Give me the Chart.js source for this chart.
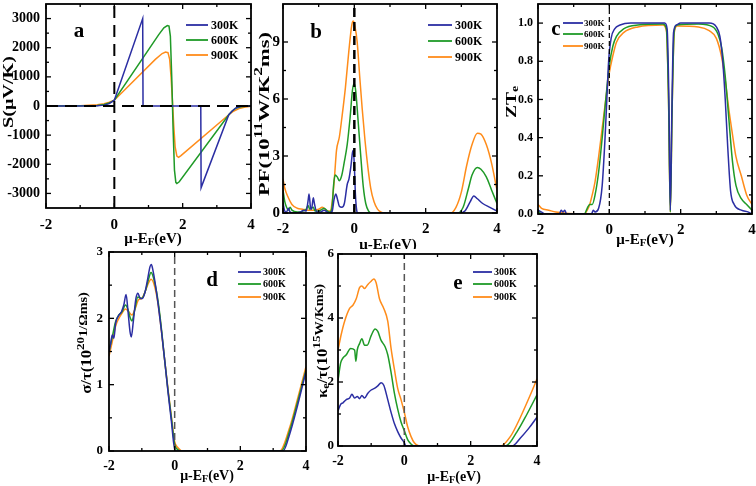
<!DOCTYPE html>
<html><head><meta charset="utf-8">
<script src="https://cdn.jsdelivr.net/npm/chart.js@4"></script>
<style>
html,body{margin:0;padding:0;background:#fff;}
#wrap{position:relative;width:756px;height:486px;overflow:hidden;background:#fff;}
canvas{position:absolute;left:0;top:0;}
</style></head><body><div id="wrap">
<canvas id="ca" width="756" height="486"></canvas>
<canvas id="cb" width="756" height="486"></canvas>
<canvas id="cc" width="756" height="486"></canvas>
<canvas id="cd" width="756" height="486"></canvas>
<canvas id="ce" width="756" height="486"></canvas>
</div>
<script>
// ---------- data ----------
const temps = ['300K', '600K', '900K'];
const xTicks = [-2, 0, 2, 4];
const aYTicks = [-3000, -2000, -1000, 0, 1000, 2000, 3000];
const bYTicks = [0, 3, 6, 9];
const cYTicks = [0, 0.2, 0.4, 0.6, 0.8, 1.0];
const dYTicks = [0, 1, 2, 3];
const eYTicks = [0, 2, 4, 6];

// panel a: Seebeck S (uV/K)
const S300 = [[-2,0],[-1,0],[-0.5,5],[-0.3,30],[-0.15,80],[0,200],[0.83,3000],[0.84,0],[2.53,0],[2.54,-2800],[3.35,-300],[3.45,-170],[3.55,-70],[3.65,-25],[3.75,-5],[4,0]];
const S600 = [[-2,0],[-1,5],[-0.5,20],[-0.3,50],[-0.15,100],[0,200],[1.3,2450],[1.45,2680],[1.55,2760],[1.6,2740],[1.64,2400],[1.68,1000],[1.72,-800],[1.76,-2200],[1.8,-2620],[1.83,-2660],[1.9,-2600],[3.35,-300],[3.45,-170],[3.55,-80],[3.7,-25],[3.85,-8],[4,0]];
const S900 = [[-2,0],[-1,10],[-0.5,40],[-0.3,80],[-0.15,130],[0,200],[1.2,1600],[1.4,1800],[1.5,1850],[1.57,1830],[1.62,1600],[1.66,1000],[1.7,200],[1.74,-700],[1.78,-1400],[1.83,-1720],[1.88,-1760],[1.95,-1700],[3.35,-300],[3.5,-170],[3.65,-90],[3.8,-40],[4,-10]];

// panel b: power factor
const PF300 = [[-2,0.55],[-1.95,0.1],[-1.9,0.05],[-1.85,0.25],[-1.8,0.05],[-1.7,0],[-1.5,0.05],[-1.42,0.15],[-1.35,0.1],[-1.3,0.6],[-1.27,1.0],[-1.23,0.3],[-1.2,0.2],[-1.15,0.8],[-1.12,0.5],[-1.05,0.05],[-0.95,0.05],[-0.85,0.15],[-0.8,0.1],[-0.7,0],[-0.62,0.1],[-0.57,0.7],[-0.52,1.0],[-0.47,0.7],[-0.42,0.35],[-0.35,0.3],[-0.28,0.5],[-0.2,1.5],[-0.15,1.8],[-0.1,2.4],[-0.05,3.2],[-0.03,3.3],[0,2.5],[0.03,1.0],[0.07,0.1],[0.1,0],[2.95,0],[3.1,0.1],[3.25,0.6],[3.35,0.9],[3.45,0.75],[3.6,0.5],[3.8,0.3],[4,0.1]];
const PF600 = [[-2,1.2],[-1.95,0.6],[-1.9,0.3],[-1.85,0.15],[-1.8,0.3],[-1.75,0.15],[-1.6,0.05],[-1.45,0.1],[-1.35,0.2],[-1.3,0.4],[-1.25,0.2],[-1.15,0.3],[-1.1,0.1],[-1.0,0.1],[-0.9,0.2],[-0.85,0.25],[-0.75,0.1],[-0.68,0.05],[-0.62,0.4],[-0.58,1.5],[-0.54,2.0],[-0.48,1.9],[-0.42,1.7],[-0.35,2.0],[-0.28,2.7],[-0.2,3.6],[-0.12,5.0],[-0.05,6.5],[0,6.8],[0.04,6.4],[0.1,5.0],[0.18,3.0],[0.25,1.4],[0.32,0.5],[0.4,0.1],[0.5,0],[2.9,0],[3.05,0.3],[3.2,1.3],[3.3,2.0],[3.45,2.4],[3.55,2.3],[3.7,1.9],[3.85,1.2],[4,0.5]];
const PF900 = [[-2,1.8],[-1.95,1.3],[-1.85,0.8],[-1.75,0.45],[-1.6,0.25],[-1.45,0.2],[-1.3,0.15],[-1.15,0.15],[-1.0,0.2],[-0.9,0.3],[-0.85,0.25],[-0.75,0.1],[-0.68,0.1],[-0.62,0.6],[-0.56,1.8],[-0.5,3.3],[-0.42,4.0],[-0.35,5.0],[-0.25,6.6],[-0.15,8.6],[-0.07,9.9],[-0.03,10.1],[0.02,9.8],[0.08,9.0],[0.15,7.2],[0.22,5.5],[0.3,3.8],[0.38,2.4],[0.46,1.3],[0.55,0.6],[0.65,0.2],[0.75,0.05],[0.9,0],[2.7,0],[2.85,0.3],[3.0,1.1],[3.15,2.5],[3.3,3.6],[3.45,4.2],[3.55,4.15],[3.7,3.6],[3.85,2.6],[4,1.2]];

// panel c: ZTe
const ZT300 = [[-2,0.02],[-1.9,0.01],[-1.8,0],[-1.4,0],[-1.35,0.02],[-1.3,0.01],[-1.25,0.02],[-1.2,0],[-0.5,0],[-0.45,0.02],[-0.4,0.01],[-0.3,0.03],[-0.2,0.15],[-0.12,0.4],[-0.07,0.6],[-0.02,0.8],[0.05,0.92],[0.15,0.97],[0.3,0.99],[0.6,1.0],[1.55,1.0],[1.62,0.97],[1.67,0.6],[1.71,0.02],[1.75,0.5],[1.8,0.95],[1.88,0.99],[2.0,1.0],[2.8,1.0],[3.0,0.98],[3.1,0.93],[3.18,0.8],[3.25,0.6],[3.32,0.35],[3.4,0.12],[3.5,0.05],[3.7,0.02],[3.9,0.01],[4,0]];
const ZT600 = [[-2,0.02],[-1.9,0.0],[-1.5,0.0],[-0.7,0],[-0.62,0.03],[-0.55,0.05],[-0.48,0.05],[-0.4,0.1],[-0.3,0.22],[-0.2,0.4],[-0.1,0.6],[0,0.78],[0.1,0.88],[0.2,0.93],[0.4,0.97],[0.8,0.99],[1.5,0.995],[1.6,0.97],[1.66,0.6],[1.71,0.01],[1.76,0.55],[1.82,0.96],[1.9,0.99],[2.5,0.995],[2.9,0.98],[3.05,0.94],[3.15,0.87],[3.25,0.72],[3.35,0.5],[3.45,0.28],[3.55,0.15],[3.7,0.08],[3.85,0.05],[4,0.02]];
const ZT900 = [[-2,0.05],[-1.9,0.03],[-1.7,0.02],[-1.5,0.01],[-0.7,0],[-0.62,0.02],[-0.55,0.05],[-0.48,0.1],[-0.4,0.17],[-0.3,0.3],[-0.2,0.45],[-0.1,0.6],[0,0.74],[0.1,0.83],[0.2,0.9],[0.4,0.95],[0.8,0.98],[1.5,0.99],[1.6,0.96],[1.66,0.6],[1.71,0.01],[1.76,0.55],[1.82,0.95],[1.9,0.985],[2.5,0.98],[2.8,0.96],[3.0,0.92],[3.15,0.82],[3.25,0.7],[3.35,0.55],[3.45,0.42],[3.55,0.3],[3.7,0.2],[3.85,0.1],[4,0.05]];

// panel d: sigma/tau
const SIG300 = [[-2,1.5],[-1.95,1.62],[-1.9,1.75],[-1.85,1.7],[-1.8,1.92],[-1.72,2.03],[-1.62,2.1],[-1.55,2.2],[-1.48,2.36],[-1.42,2.1],[-1.36,1.8],[-1.32,1.72],[-1.26,1.95],[-1.18,2.3],[-1.12,2.38],[-1.05,2.3],[-0.98,2.3],[-0.9,2.4],[-0.82,2.6],[-0.75,2.78],[-0.71,2.81],[-0.66,2.72],[-0.6,2.55],[-0.5,2.2],[-0.4,1.8],[-0.3,1.35],[-0.2,0.88],[-0.1,0.45],[-0.03,0.12],[0.02,0],[3.3,0],[3.5,0.25],[3.75,0.7],[4,1.2]];
const SIG600 = [[-2,1.5],[-1.9,1.72],[-1.8,1.95],[-1.7,2.05],[-1.6,2.1],[-1.5,2.2],[-1.42,2.13],[-1.35,2.0],[-1.3,1.96],[-1.22,2.12],[-1.12,2.32],[-1.0,2.3],[-0.9,2.4],[-0.8,2.58],[-0.72,2.69],[-0.65,2.62],[-0.55,2.4],[-0.45,2.05],[-0.3,1.35],[-0.2,0.9],[-0.1,0.5],[0,0.1],[0.1,0.02],[0.2,0],[3.25,0],[3.5,0.3],[3.75,0.75],[4,1.22]];
const SIG900 = [[-2,1.43],[-1.9,1.65],[-1.8,1.88],[-1.7,2.0],[-1.6,2.08],[-1.5,2.14],[-1.4,2.1],[-1.3,2.05],[-1.2,2.15],[-1.1,2.28],[-1.0,2.3],[-0.9,2.4],[-0.8,2.53],[-0.72,2.59],[-0.62,2.5],[-0.5,2.2],[-0.3,1.35],[-0.2,0.92],[-0.1,0.52],[0,0.14],[0.1,0.05],[0.25,0],[3.2,0],[3.5,0.35],[3.75,0.8],[4,1.27]];

// panel e: kappa_e/tau
const KE300 = [[-2,1.1],[-1.92,1.3],[-1.85,1.35],[-1.75,1.45],[-1.65,1.5],[-1.58,1.62],[-1.5,1.5],[-1.42,1.55],[-1.35,1.48],[-1.28,1.58],[-1.2,1.5],[-1.1,1.65],[-1.0,1.75],[-0.9,1.8],[-0.8,1.88],[-0.7,1.98],[-0.62,1.9],[-0.5,1.45],[-0.4,1.05],[-0.3,0.7],[-0.2,0.45],[-0.1,0.25],[0,0.1],[0.05,0],[3.25,0],[3.5,0.25],[3.75,0.55],[4,0.9]];
const KE600 = [[-2,2.05],[-1.92,2.6],[-1.85,2.75],[-1.75,2.85],[-1.62,3.05],[-1.5,3.0],[-1.46,2.65],[-1.42,3.0],[-1.35,3.2],[-1.28,3.35],[-1.2,3.15],[-1.12,3.15],[-1.0,3.45],[-0.88,3.66],[-0.8,3.58],[-0.7,3.3],[-0.58,3.1],[-0.5,2.85],[-0.4,2.3],[-0.3,1.65],[-0.2,1.15],[-0.1,0.75],[0,0.48],[0.1,0.2],[0.2,0.06],[0.3,0],[3.05,0],[3.4,0.45],[3.7,1.0],[4,1.6]];
const KE900 = [[-2,3.0],[-1.9,3.5],[-1.8,3.9],[-1.65,4.3],[-1.55,4.4],[-1.45,4.6],[-1.35,4.95],[-1.28,5.0],[-1.2,4.92],[-1.1,5.05],[-1.0,5.15],[-0.92,5.22],[-0.85,5.1],[-0.75,4.6],[-0.62,4.3],[-0.5,3.9],[-0.4,3.05],[-0.3,2.4],[-0.2,1.8],[-0.1,1.45],[0,1.05],[0.1,0.6],[0.2,0.3],[0.3,0.1],[0.45,0],[2.9,0],[3.2,0.3],[3.5,0.9],[3.8,1.6],[4,2.1]];

// ---------- styling / helpers ----------
const COLORS = ['#2b2ea3', '#1f9a27', '#ff8c1a'];
const SERIF = '"Liberation Serif","Times New Roman",serif';
const YW = 46, XH = 30;

function drawRich(ctx, parts, x, y, rot, size, clipBottom, stretch) {
  ctx.save();
  if (clipBottom) { ctx.beginPath(); ctx.rect(0, 0, 756, clipBottom); ctx.clip(); }
  ctx.translate(x, y);
  if (rot) ctx.rotate(rot);
  if (stretch) ctx.scale(stretch, 1);
  ctx.fillStyle = '#000';
  ctx.textBaseline = 'middle';
  ctx.textAlign = 'left';
  const spec = k => {
    if (k === 'sup') return { s: size * 0.78, dy: -size * 0.42 };
    if (k === 'sub') return { s: size * 0.72, dy: size * 0.22 };
    if (k === 'up') return { s: size * 0.85, dy: -size * 0.22 };
    return { s: size, dy: 0 };
  };
  let w = 0;
  const items = parts.map(([t, k]) => {
    const sp = spec(k);
    ctx.font = 'bold ' + sp.s + 'px ' + SERIF;
    const m = ctx.measureText(t).width;
    w += m;
    return { t, sp, m };
  });
  let cx = -w / 2;
  items.forEach(it => {
    ctx.font = 'bold ' + it.sp.s + 'px ' + SERIF;
    ctx.fillText(it.t, cx, it.sp.dy);
    cx += it.m;
  });
  ctx.restore();
}

const deco = {
  id: 'deco',
  afterDraw(chart, args, o) {
    const ctx = chart.ctx, a = chart.chartArea;
    const xs = chart.scales.x, ys = chart.scales.y;
    ctx.save();
    ctx.strokeStyle = '#000';
    ctx.lineWidth = 1.3;
    const seg = (x1, y1, x2, y2) => { ctx.beginPath(); ctx.moveTo(x1, y1); ctx.lineTo(x2, y2); ctx.stroke(); };
    const xMaj = xs.ticks.map(t => t.value);
    const yMaj = ys.ticks.map(t => t.value);
    const mids = arr => arr.slice(1).map((v, i) => (v + arr[i]) / 2);
    const xMin = mids(xMaj);
    const yMin = mids(yMaj);
    xMaj.forEach(v => { const p = xs.getPixelForValue(v); seg(p, a.bottom, p, a.bottom - 5); seg(p, a.top, p, a.top + 5); });
    xMin.forEach(v => { const p = xs.getPixelForValue(v); seg(p, a.bottom, p, a.bottom - 3); seg(p, a.top, p, a.top + 3); });
    yMaj.forEach(v => { const p = ys.getPixelForValue(v); seg(a.left, p, a.left + 5, p); seg(a.right, p, a.right - 5, p); });
    yMin.forEach(v => { const p = ys.getPixelForValue(v); seg(a.left, p, a.left + 3, p); seg(a.right, p, a.right - 3, p); });
    ctx.lineWidth = o.frame || 1.8;
    ctx.strokeRect(a.left, a.top, a.right - a.left, a.bottom - a.top);
    const L = o.legend;
    chart.data.datasets.forEach(ds => {
      if (!ds.label) return;
      const row = L.rows[ds.row];
      ctx.strokeStyle = ds.borderColor; ctx.lineWidth = 1.8;
      seg(L.x1, row, L.x2, row);
      ctx.fillStyle = '#000';
      ctx.font = 'bold ' + L.size + 'px ' + SERIF;
      ctx.textBaseline = 'middle'; ctx.textAlign = 'left';
      ctx.fillText(ds.label, L.tx, row + 0.5);
    });
    ctx.fillStyle = '#000';
    ctx.font = 'bold ' + o.letter.size + 'px ' + SERIF;
    ctx.textBaseline = 'middle'; ctx.textAlign = 'center';
    ctx.fillText(o.letter.t, o.letter.x, o.letter.y);
    ctx.restore();
    o.titles.forEach(tt => drawRich(ctx, tt.parts, tt.x, tt.y, tt.rot, tt.size, tt.clip, tt.stretch));
  }
};

function series(arrs, mode) {
  return arrs.map((arr, i) => ({
    label: temps[i], row: i,
    data: arr.map(([x, y]) => ({ x, y })),
    borderColor: COLORS[i], borderWidth: 1.5, pointRadius: 0, fill: false,
    tension: 0, cubicInterpolationMode: mode || 'default'
  }));
}
function refLine(pts, color, width, dash) {
  return { label: '', data: pts.map(([x, y]) => ({ x, y })), borderColor: color, borderWidth: width,
           borderDash: dash, pointRadius: 0, fill: false, tension: 0, order: -1 };
}
const zeroPad = s => { s.paddingTop = 0; s.paddingBottom = 0; s.paddingLeft = 0; s.paddingRight = 0; };

function panel(id, box, yMin, yMax, yTicks, fmt, datasets, fonts, pads, decoOpts) {
  const [L, T, R, B] = box;
  return new Chart(document.getElementById(id), {
    type: 'line',
    data: { datasets },
    plugins: [deco],
    options: {
      responsive: false, animation: false, devicePixelRatio: 1,
      layout: { padding: { left: L - YW, top: T, right: 756 - R, bottom: 486 - B - XH } },
      plugins: { legend: { display: false }, tooltip: { enabled: false }, deco: decoOpts },
      scales: {
        x: {
          type: 'linear', min: -2, max: 4,
          afterFit: s => { s.height = XH; zeroPad(s); },
          afterBuildTicks: s => { s.ticks = xTicks.map(v => ({ value: v })); },
          grid: { display: false, drawTicks: false }, border: { display: false },
          ticks: { autoSkip: false, maxRotation: 0, minRotation: 0, padding: pads[1], color: '#000',
                   font: { family: SERIF, weight: 'bold', size: fonts[1] }, callback: v => String(v) }
        },
        y: {
          type: 'linear', min: yMin, max: yMax,
          afterFit: s => { s.width = YW; zeroPad(s); },
          afterBuildTicks: s => { s.ticks = yTicks.map(v => ({ value: v })); },
          grid: { display: false, drawTicks: false }, border: { display: false },
          ticks: { autoSkip: false, padding: pads[0], color: '#000',
                   font: { family: SERIF, weight: 'bold', size: fonts[0] }, callback: fmt }
        }
      }
    }
  });
}

const xTitle = (x, y, size, clip) => ({ parts: [['μ-E', 'n'], ['F', 'sub'], ['(eV)', 'n']], x, y, rot: 0, size, clip });
const R90 = -Math.PI / 2;

// panel a
panel('ca', [46, 4, 251, 208], -3500, 3500, aYTicks, v => String(v),
  [refLine([[0, -3500], [0, 3500]], '#000', 2, [12, 7]), refLine([[-2, 0], [4, 0]], '#000', 2, [12, 7])]
    .concat(series([S300, S600, S900])),
  [14, 15], [6, 8],
  { legend: { x1: 186, x2: 208, tx: 211, rows: [25, 40, 55], size: 12 },
    letter: { t: 'a', x: 79, y: 32, size: 21 },
    titles: [{ parts: [['S(μV/K)', 'n']], x: 9, y: 92, rot: R90, size: 15, stretch: 1.35 }, xTitle(153, 239, 15)] });

// panel b
panel('cb', [283, 4, 497, 213], 0, 11, bYTicks, v => String(v),
  [refLine([[0, 0], [0, 11]], '#000', 2.5, [9, 5])].concat(series([PF300, PF600, PF900], 'monotone')),
  [15, 15], [3, 7],
  { legend: { x1: 428, x2: 452, tx: 455, rows: [25, 41, 57], size: 12 },
    letter: { t: 'b', x: 316, y: 33, size: 21 },
    titles: [{ parts: [['PF(10', 'n'], ['11', 'sup'], ['W/K', 'n'], ['2', 'sup'], ['ms)', 'n']], x: 265, y: 114, rot: R90, size: 15, stretch: 1.5 },
             xTitle(388, 245, 15, 249)] });

// panel c
panel('cc', [538, 4, 752, 214], 0, 1.1, cYTicks, v => v.toFixed(1),
  [refLine([[0, 0], [0, 1.1]], '#000', 1.2, [5, 3])].concat(series([ZT300, ZT600, ZT900], 'monotone')),
  [12, 15], [5, 7],
  { legend: { x1: 563, x2: 583, tx: 584, rows: [23, 34, 46], size: 9 },
    letter: { t: 'c', x: 556, y: 30, size: 21 },
    titles: [{ parts: [['ZT', 'n'], ['e', 'sub']], x: 512, y: 102, rot: R90, size: 15, stretch: 1.3 }, xTitle(645, 240, 15)] });

// panel d
panel('cd', [109, 252, 306, 451], 0, 3, dYTicks, v => String(v),
  [refLine([[0, 0], [0, 3]], '#555', 1.5, [7, 4])].concat(series([SIG300, SIG600, SIG900], 'monotone')),
  [13, 14], [6, 7],
  { legend: { x1: 238, x2: 261, tx: 263, rows: [272, 284, 297], size: 10 },
    letter: { t: 'd', x: 212, y: 281, size: 21 },
    titles: [{ parts: [['σ/τ(10', 'n'], ['20', 'sup'], ['1/Ωms)', 'up']], x: 87, y: 343, rot: R90, size: 14, stretch: 1.2 },
             xTitle(207, 476, 14)] });

// panel e
panel('ce', [338, 254, 537, 446], 0, 6, eYTicks, v => String(v),
  [refLine([[0, 0], [0, 6]], '#555', 1.5, [7, 4])].concat(series([KE300, KE600, KE900], 'monotone')),
  [13, 14], [4, 7],
  { legend: { x1: 473, x2: 492, tx: 494, rows: [272, 284, 297], size: 10 },
    letter: { t: 'e', x: 458, y: 284, size: 21 },
    titles: [{ parts: [['κ', 'n'], ['e', 'sub'], ['/τ(10', 'n'], ['15', 'sup'], ['W/Kms)', 'up']], x: 323, y: 341, rot: R90, size: 14, stretch: 1.2 },
             xTitle(454, 477, 14)] });
</script>
</body></html>
